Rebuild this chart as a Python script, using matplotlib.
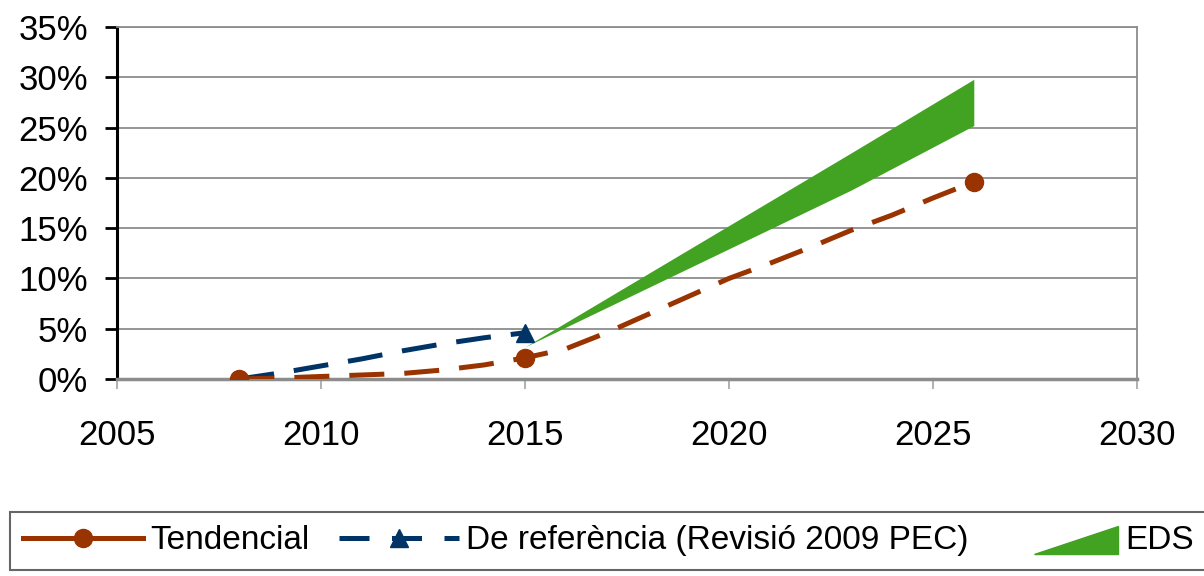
import matplotlib.pyplot as plt
from matplotlib.patches import Polygon
from matplotlib.legend_handler import HandlerPatch
from matplotlib.ticker import FuncFormatter

plt.rcParams['font.family'] = ['Liberation Sans', 'DejaVu Sans']

# Tendencial (markers only at 2008, 2015, 2026)
tend_years = [2008, 2009, 2010, 2011, 2012, 2013, 2014, 2015, 2016, 2017,
              2018, 2019, 2020, 2021, 2022, 2023, 2024, 2025, 2026]
tend_vals = [0.0, 0.1, 0.25, 0.4, 0.55, 0.9, 1.4, 2.1, 3.0, 4.6,
             6.4, 8.2, 10.0, 11.5, 13.1, 14.8, 16.3, 18.0, 19.6]
tend_marks = [0, 7, 18]

# De referència (Revisió 2009 PEC)
ref_years = [2008, 2009, 2010, 2011, 2012, 2013, 2014, 2015]
ref_vals = [0.0, 0.6, 1.3, 2.0, 2.8, 3.5, 4.1, 4.6]

# EDS band
eds_years = [2015, 2023, 2026]
eds_low = [3.2, 18.8, 25.2]
eds_high = [3.2, 22.5, 29.8]

brown = '#993300'
blue = '#003366'
green = '#42A322'
fs = 25
leg_fs = 24

fig = plt.figure(figsize=(12.04, 5.76), dpi=100)
ax = fig.add_axes([117 / 1204, 1 - 379 / 576, 1020 / 1204, 352 / 576])

ax.fill_between(eds_years, eds_low, eds_high, color=green, lw=0, zorder=2)
ax.plot(ref_years, ref_vals, color=blue, lw=3.6, dashes=(7, 4),
        marker='^', markersize=13, markevery=[7], zorder=3)
ax.plot(tend_years, tend_vals, color=brown, lw=3.6, dashes=(7, 4),
        marker='o', markersize=13, markevery=tend_marks, zorder=4)

ax.set_xlim(2005, 2030)
ax.set_ylim(0, 35)
ax.set_xticks(range(2005, 2031, 5))
ax.set_yticks(range(0, 36, 5))
ax.yaxis.set_major_formatter(FuncFormatter(lambda v, p: f'{v:.0f}%'))
ax.grid(axis='y', color='#8c8c8c', lw=1.3)
ax.set_axisbelow(True)

for s in ['top', 'right']:
    ax.spines[s].set_color('#8c8c8c')
    ax.spines[s].set_linewidth(1.3)
ax.spines['left'].set_color('black')
ax.spines['left'].set_linewidth(2.2)
ax.spines['bottom'].set_color('#8c8c8c')
ax.spines['bottom'].set_linewidth(2.5)

ax.tick_params(axis='y', direction='out', length=9, width=2, color='black',
               labelsize=fs, pad=12)
ax.tick_params(axis='x', direction='out', length=7, width=1.3, color='#aaaaaa',
               labelsize=fs, pad=22)


def make_tri(legend, orig_handle, xdescent, ydescent, width, height, fontsize):
    return Polygon([[0.3 * width, -0.2 * height], [width, -0.2 * height],
                    [width, 1.0 * height]], closed=True)


eds_patch = Polygon([[0, 0], [1, 0], [1, 1]], closed=True, color=green)
h_tend, = ax.plot([], [], color=brown, lw=3.6, marker='o', markersize=13)
h_ref, = ax.plot([], [], color=blue, lw=3.6, dashes=(6, 4.5), marker='^',
                 markersize=13)

leg = fig.legend([h_tend, h_ref, eds_patch],
                 ['Tendencial', 'De referència (Revisió 2009 PEC)', 'EDS'],
                 handler_map={Polygon: HandlerPatch(patch_func=make_tri)},
                 loc='upper left', bbox_to_anchor=(10 / 1204, 1 - 512 / 576),
                 ncol=3, fontsize=leg_fs, frameon=True, fancybox=False,
                 handlelength=3.6, handletextpad=0.2, columnspacing=0.9,
                 borderpad=0.4, borderaxespad=0)
leg.get_frame().set_edgecolor('#404040')
leg.get_frame().set_linewidth(1.5)

fig.savefig('out.png', dpi=100)
